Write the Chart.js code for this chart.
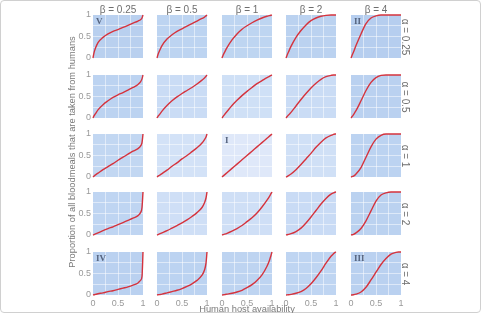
<!DOCTYPE html>
<html>
<head>
<meta charset="utf-8">
<script src="https://cdn.jsdelivr.net/npm/chart.js@4.4.1/dist/chart.umd.min.js"></script>
<style>
  body { margin: 0; width: 481px; height: 313px; position: relative; background: #fff;
         font-family: "Liberation Sans", Arial, sans-serif; overflow: hidden; }
  #frame { position: absolute; left: 0; top: 0; width: 479px; height: 311px;
           border: 1px solid #d0d0d0; border-radius: 4px; }
  canvas, .lbl { position: absolute; }
  .lbl { white-space: nowrap; color: #6e6e6e; }
  .roman { position: absolute; font-family: "Liberation Serif", "DejaVu Serif", serif;
           font-weight: bold; font-size: 9px; color: #55647f; }
</style>
</head>
<body>
<div id="frame"></div>
<script>
const hostAvail = [0, 0.02, 0.05, 0.1, 0.2, 0.3, 0.4, 0.5, 0.6, 0.7, 0.8, 0.9, 0.95, 0.98, 1];

const betaLabels = ["β = 0.25", "β = 0.5", "β = 1", "β = 2", "β = 4"];
const alphaLabels = ["α = 0.25", "α = 0.5", "α = 1", "α = 2", "α = 4"];
const tickLabels = ["0", "0.5", "1"];

// proportion of bloodmeals from humans, one row per alpha, one list per beta
const alpha025 = [
  [0, 0.12, 0.23, 0.36, 0.48, 0.56, 0.62, 0.66, 0.71, 0.76, 0.81, 0.86, 0.89, 0.93, 1],
  [0, 0.08, 0.17, 0.29, 0.44, 0.54, 0.62, 0.68, 0.74, 0.8, 0.86, 0.92, 0.95, 0.98, 1],
  [0, 0.06, 0.13, 0.24, 0.42, 0.56, 0.67, 0.75, 0.82, 0.88, 0.93, 0.97, 0.985, 0.995, 1],
  [0, 0.06, 0.14, 0.27, 0.48, 0.64, 0.77, 0.87, 0.93, 0.97, 0.99, 1, 1, 1, 1],
  [0, 0.06, 0.14, 0.29, 0.56, 0.8, 0.93, 0.98, 1, 1, 1, 1, 1, 1, 1]
];
const alpha05 = [
  [0, 0.05, 0.1, 0.19, 0.31, 0.4, 0.48, 0.54, 0.59, 0.65, 0.71, 0.78, 0.84, 0.91, 1],
  [0, 0.04, 0.08, 0.16, 0.29, 0.4, 0.49, 0.57, 0.64, 0.71, 0.79, 0.88, 0.93, 0.97, 1],
  [0, 0.03, 0.08, 0.15, 0.29, 0.41, 0.52, 0.62, 0.71, 0.8, 0.87, 0.94, 0.97, 0.99, 1],
  [0, 0.03, 0.07, 0.13, 0.28, 0.43, 0.57, 0.7, 0.81, 0.9, 0.96, 0.99, 1, 1, 1],
  [0, 0.03, 0.08, 0.17, 0.4, 0.64, 0.83, 0.94, 0.99, 1, 1, 1, 1, 1, 1]
];
const alpha1 = [
  [0, 0.02, 0.05, 0.09, 0.17, 0.24, 0.31, 0.39, 0.46, 0.53, 0.6, 0.66, 0.72, 0.8, 1],
  [0, 0.02, 0.04, 0.08, 0.16, 0.25, 0.33, 0.42, 0.5, 0.59, 0.68, 0.79, 0.87, 0.93, 1],
  [0, 0.02, 0.05, 0.1, 0.2, 0.3, 0.4, 0.5, 0.6, 0.7, 0.8, 0.9, 0.95, 0.98, 1],
  [0, 0.01, 0.03, 0.07, 0.17, 0.29, 0.42, 0.55, 0.69, 0.81, 0.91, 0.97, 0.99, 1, 1],
  [0, 0.01, 0.02, 0.07, 0.22, 0.46, 0.7, 0.88, 0.97, 1, 1, 1, 1, 1, 1]
];
const alpha2 = [
  [0, 0.01, 0.025, 0.05, 0.1, 0.15, 0.19, 0.24, 0.29, 0.34, 0.39, 0.45, 0.52, 0.64, 1],
  [0, 0.01, 0.025, 0.05, 0.1, 0.16, 0.22, 0.28, 0.35, 0.43, 0.52, 0.64, 0.75, 0.86, 1],
  [0, 0.01, 0.02, 0.04, 0.09, 0.15, 0.22, 0.31, 0.4, 0.51, 0.65, 0.81, 0.9, 0.96, 1],
  [0, 0.005, 0.015, 0.03, 0.08, 0.16, 0.28, 0.42, 0.57, 0.72, 0.85, 0.95, 0.98, 0.995, 1],
  [0, 0.005, 0.015, 0.05, 0.15, 0.33, 0.56, 0.79, 0.93, 0.98, 1, 1, 1, 1, 1]
];
const alpha4 = [
  [0, 0.005, 0.015, 0.03, 0.05, 0.08, 0.1, 0.13, 0.16, 0.19, 0.23, 0.28, 0.34, 0.43, 1],
  [0, 0.005, 0.01, 0.02, 0.05, 0.08, 0.11, 0.15, 0.2, 0.26, 0.34, 0.46, 0.58, 0.74, 1],
  [0, 0.003, 0.01, 0.02, 0.04, 0.07, 0.11, 0.17, 0.24, 0.34, 0.47, 0.67, 0.81, 0.92, 1],
  [0, 0.002, 0.006, 0.015, 0.04, 0.08, 0.15, 0.26, 0.4, 0.56, 0.74, 0.9, 0.96, 0.99, 1],
  [0, 0.001, 0.005, 0.02, 0.07, 0.18, 0.35, 0.53, 0.71, 0.85, 0.95, 0.99, 1, 1, 1]
];
const rows = [alpha025, alpha05, alpha1, alpha2, alpha4];

// panels carrying a roman numeral: [row, col, text]
const romans = [[0, 0, "V"], [0, 4, "II"], [2, 2, "I"], [4, 0, "IV"], [4, 4, "III"]];

// --- layout / style ---
const lefts = [93, 157, 222, 286, 351];
const tops = [15, 75, 134, 192, 252];
const W = 50, H = 43, P = 8, PADL = 18, PADB = 12;
const bgColors = [
  ["#b9d0ef", "#bdd4f1", "#bed5f1", "#bbd2f0", "#b6ceef"],
  ["#bcd3f1", "#cadcf5", "#cfe0f6", "#cadcf5", "#bad1f0"],
  ["#c2d7f2", "#d3e2f7", "#dfe8f9", "#d0e0f6", "#bcd3f1"],
  ["#bfd5f2", "#cfdff6", "#cfdff6", "#c9dbf5", "#bbd2f0"],
  ["#bad1f0", "#bcd3f1", "#bed4f1", "#bfd5f2", "#bad1f0"]
];

const panelBg = {
  id: "panelBg",
  beforeDraw(chart, args, opts) {
    const a = chart.chartArea, ctx = chart.ctx;
    ctx.save();
    ctx.fillStyle = opts.color;
    ctx.fillRect(a.left, a.top, a.right - a.left, a.bottom - a.top);
    ctx.restore();
  }
};

function tickText(v) {
  const i = [0, 0.5, 1].indexOf(v);
  return i >= 0 ? tickLabels[i] : "";
}
function gridColor(ctx) {
  const v = ctx.tick.value;
  return (v === 0 || v === 1) ? "rgba(0,0,0,0)" : "rgba(255,255,255,0.5)";
}

function addLabel(text, x, y, size, rotate, extra) {
  const d = document.createElement("div");
  d.className = "lbl";
  d.textContent = text;
  d.style.fontSize = size + "px";
  d.style.left = x + "px";
  d.style.top = y + "px";
  d.style.transform = "translate(-50%,-50%)" + (rotate ? " rotate(" + rotate + "deg)" : "");
  if (extra) Object.assign(d.style, extra);
  document.body.appendChild(d);
}

for (let r = 0; r < 5; r++) {
  for (let c = 0; c < 5; c++) {
    const showY = c === 0, showX = r === 4;
    const padL = showY ? PADL : 0, padB = showX ? PADB : 0;
    const cv = document.createElement("canvas");
    const cw = W + padL + 2 * P, ch = H + padB + 2 * P;
    cv.width = cw; cv.height = ch;
    cv.style.width = cw + "px"; cv.style.height = ch + "px";
    cv.style.left = (lefts[c] - padL - P) + "px";
    cv.style.top = (tops[r] - P) + "px";
    document.body.appendChild(cv);

    const pts = hostAvail.map((x, i) => ({ x: x, y: rows[r][c][i] }));
    new Chart(cv, {
      type: "line",
      data: {
        datasets: [{
          data: pts,
          borderColor: "#d5333d",
          borderWidth: 1.4,
          pointRadius: 0,
          fill: false,
          cubicInterpolationMode: "monotone",
          clip: 3
        }]
      },
      options: {
        responsive: false,
        animation: false,
        devicePixelRatio: 1,
        layout: { padding: P },
        plugins: {
          legend: { display: false },
          tooltip: { enabled: false },
          panelBg: { color: bgColors[r][c] }
        },
        scales: {
          x: {
            type: "linear", min: 0, max: 1,
            border: { display: false },
            grid: { color: gridColor, drawTicks: false, lineWidth: 1 },
            ticks: {
              display: showX, stepSize: 0.25, autoSkip: false, maxRotation: 0,
              padding: 3, color: "#999999", font: { size: 9, family: "Liberation Sans" },
              callback: tickText
            },
            afterFit(s) { s.height = padB; }
          },
          y: {
            type: "linear", min: 0, max: 1,
            border: { display: false },
            grid: { color: gridColor, drawTicks: false, lineWidth: 1 },
            ticks: {
              display: showY, stepSize: 0.25, autoSkip: false,
              padding: 2, color: "#999999", font: { size: 9, family: "Liberation Sans" },
              callback: tickText
            },
            afterFit(s) { s.width = padL; }
          }
        }
      },
      plugins: [panelBg]
    });
  }
}

// column titles (beta) and row titles (alpha)
betaLabels.forEach((t, c) => addLabel(t, lefts[c] + W / 2, 9, 10, 0));
alphaLabels.forEach((t, r) => addLabel(t, 405, tops[r] + H / 2, 10, 90));
addLabel("Proportion of all bloodmeals that are taken from humans", 72, 152, 9.3, -90, { color: "#7a7a7a" });
addLabel("Human host availability", 247, 308.5, 9.3, 0, { color: "#7a7a7a" });

romans.forEach(([r, c, t]) => {
  const d = document.createElement("div");
  d.className = "roman";
  d.textContent = t;
  d.style.left = (lefts[c] + 3) + "px";
  d.style.top = (tops[r] + 1) + "px";
  document.body.appendChild(d);
});
</script>
</body>
</html>
